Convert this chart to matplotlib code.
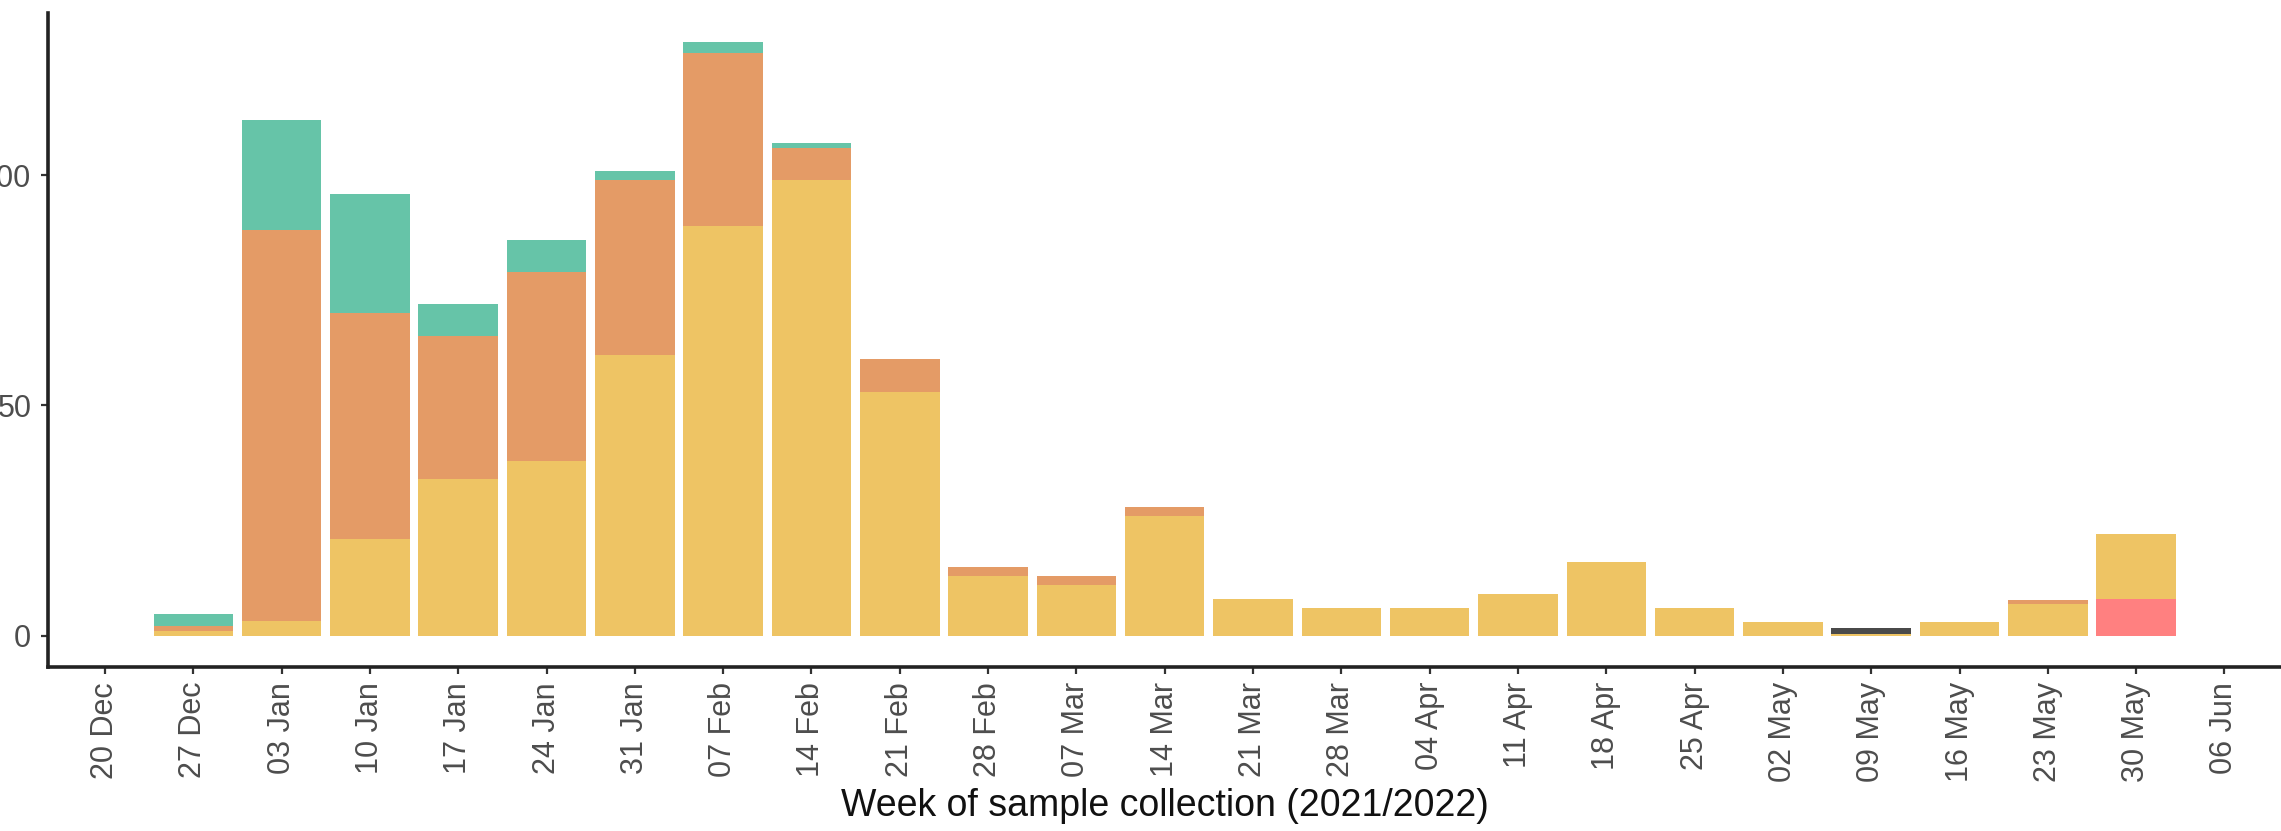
import matplotlib
matplotlib.use("Agg")
import matplotlib.pyplot as plt
import numpy as np

weeks = ["20 Dec", "27 Dec", "03 Jan", "10 Jan", "17 Jan", "24 Jan", "31 Jan",
         "07 Feb", "14 Feb", "21 Feb", "28 Feb", "07 Mar", "14 Mar", "21 Mar",
         "28 Mar", "04 Apr", "11 Apr", "18 Apr", "25 Apr", "02 May", "09 May",
         "16 May", "23 May", "30 May", "06 Jun"]

pink   = [0, 0, 0, 0, 0, 0, 0, 0, 0, 0, 0, 0, 0, 0, 0, 0, 0, 0, 0, 0, 0, 0, 0, 8, 0]
yellow = [0, 1, 3.3, 21, 34, 38, 61, 89, 99, 53, 13, 11, 26, 8, 6, 6, 9, 16, 6, 3, 0.4, 3, 7, 14, 0]
dark   = [0, 0, 0, 0, 0, 0, 0, 0, 0, 0, 0, 0, 0, 0, 0, 0, 0, 0, 0, 0, 1.2, 0, 0, 0, 0]
orange = [0, 1.2, 84.7, 49, 31, 41, 38, 37.5, 7, 7, 2, 2, 2, 0, 0, 0, 0, 0, 0, 0, 0, 0, 0.8, 0, 0]
teal   = [0, 2.5, 24, 26, 7, 7, 2, 2.5, 1, 0, 0, 0, 0, 0, 0, 0, 0, 0, 0, 0, 0, 0, 0, 0, 0]

yticks = [0, 50, 100]
xlabel = "Week of sample collection (2021/2022)"

plt.rcParams['font.family'] = ['Liberation Sans', 'DejaVu Sans']

fig = plt.figure(figsize=(22.81, 8.31), dpi=100)
ax = fig.add_axes([48/2281, 1 - 666.7/831, 1 - 48/2281, (666.7 - 13)/831])

x = np.arange(len(weeks))
series = [(pink, "#FF8080"), (yellow, "#EEC464"), (dark, "#4A4A4A"),
          (orange, "#E49B66"), (teal, "#66C4A8")]
bottom = np.zeros(len(weeks))
for vals, col in series:
    v = np.array(vals, dtype=float)
    ax.bar(x, v, width=0.9, bottom=bottom, color=col, linewidth=0)
    bottom += v

ax.set_xlim(-0.645, 24.64)
ax.set_ylim(-6.7, 135.2)
ax.set_xticks(x)
ax.set_xticklabels(weeks, rotation=90, fontsize=22, color="#4D4D4D")
ax.set_yticks(yticks)
ax.set_yticklabels([str(t) for t in yticks], fontsize=22, color="#4D4D4D")
ax.tick_params(axis='both', length=5, width=1.6, color="#333333")
ax.tick_params(axis='y', pad=7)
ax.tick_params(axis='x', pad=6)

for s in ["top", "right"]:
    ax.spines[s].set_visible(False)
for s in ["left", "bottom"]:
    ax.spines[s].set_linewidth(2.6)
    ax.spines[s].set_color("#222222")

ax.set_xlabel(xlabel, fontsize=27, color="#111111", labelpad=4)

fig.savefig("out.png", dpi=100)
